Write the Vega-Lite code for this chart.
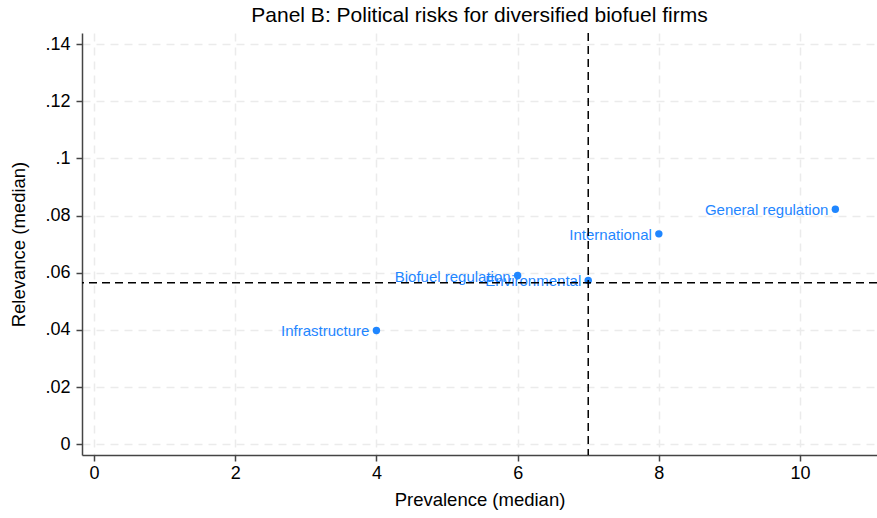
{
  "$schema": "https://vega.github.io/schema/vega-lite/v6.json",
  "width": 795,
  "height": 422,
  "autosize": {"type": "none"},
  "padding": {"left": 82, "top": 33, "right": 0, "bottom": 63},
  "title": {"text": "Panel B: Political risks for diversified biofuel firms", "font": "Liberation Sans", "fontSize": 21, "fontWeight": "normal", "color": "#000000", "offset": 6, "anchor": "middle"},
  "config": {
    "view": {"stroke": null},
    "font": "Liberation Sans",
    "axis": {
      "labelFont": "Liberation Sans", "labelFontSize": 18, "labelColor": "#000000",
      "titleFont": "Liberation Sans", "titleFontSize": 18.5, "titleFontWeight": "normal", "titleColor": "#000000",
      "domainColor": "#444444", "domainWidth": 1.5, "tickColor": "#444444", "tickWidth": 1.5, "tickSize": 6,
      "gridColor": "#ebebeb", "gridDash": [8, 6], "gridWidth": 1.5
    }
  },
  "layer": [
    {
      "data": {"values": [
        {"risk": "Infrastructure", "prevalence": 4, "relevance": 0.0398},
        {"risk": "Biofuel regulation", "prevalence": 6, "relevance": 0.0590},
        {"risk": "Environmental", "prevalence": 7, "relevance": 0.0573},
        {"risk": "International", "prevalence": 8, "relevance": 0.0736},
        {"risk": "General regulation", "prevalence": 10.5, "relevance": 0.0822}
      ]},
      "layer": [
        {
          "mark": {"type": "point", "filled": true, "color": "#1f86ff", "size": 55, "opacity": 1},
          "encoding": {
            "x": {"field": "prevalence", "type": "quantitative", "scale": {"domain": [-0.17, 11.09], "nice": false, "zero": false},
              "axis": {"title": "Prevalence (median)", "values": [0, 2, 4, 6, 8, 10], "format": "d", "labelPadding": 3, "titlePadding": 8}},
            "y": {"field": "relevance", "type": "quantitative", "scale": {"domain": [-0.0038, 0.1439], "nice": false, "zero": false},
              "axis": {"title": "Relevance (median)", "values": [0, 0.02, 0.04, 0.06, 0.08, 0.1, 0.12, 0.14], "labelPadding": 6, "titlePadding": 16,
                "labelExpr": "datum.value == 0 ? '0' : slice(format(datum.value, '.2~f'), 1)"}}
          }
        },
        {
          "mark": {"type": "text", "align": "right", "baseline": "middle", "dx": -7, "dy": 1, "color": "#1f86ff", "fontSize": 15, "font": "Liberation Sans"},
          "encoding": {
            "x": {"field": "prevalence", "type": "quantitative"},
            "y": {"field": "relevance", "type": "quantitative"},
            "text": {"field": "risk"}
          }
        }
      ]
    },
    {
      "data": {"values": [{"xline": 7}]},
      "mark": {"type": "rule", "color": "#000000", "strokeDash": [8, 5], "strokeWidth": 1.5},
      "encoding": {"x": {"field": "xline", "type": "quantitative"}}
    },
    {
      "data": {"values": [{"yline": 0.0565}]},
      "mark": {"type": "rule", "color": "#000000", "strokeDash": [8, 5], "strokeWidth": 1.5},
      "encoding": {"y": {"field": "yline", "type": "quantitative"}}
    }
  ]
}
